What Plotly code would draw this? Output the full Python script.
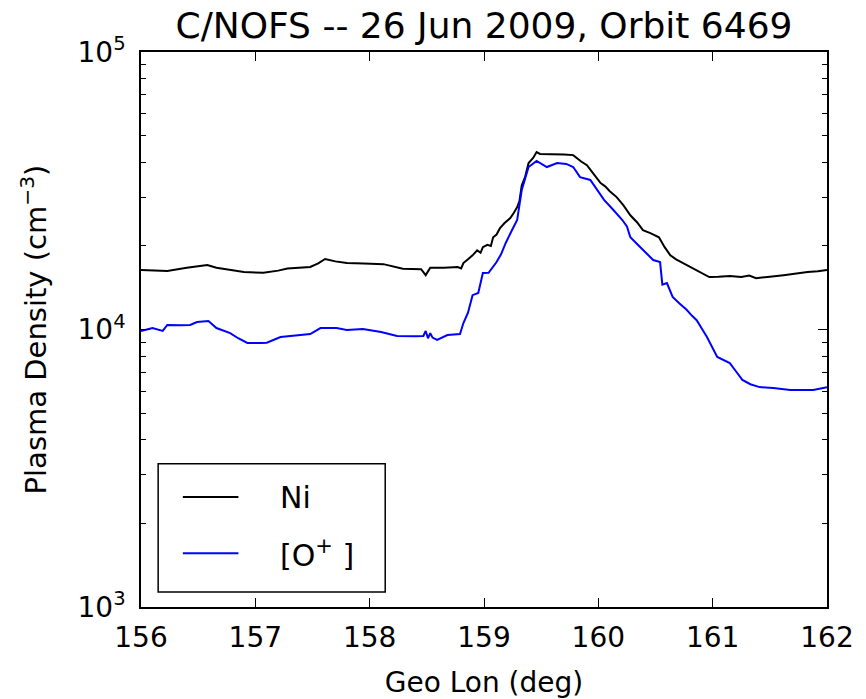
import plotly.graph_objects as go

# Geographic longitude (deg) and densities (cm^-3) along the pass
ni_lon = [156.00, 156.10, 156.23, 156.40, 156.58, 156.66, 156.80, 156.90, 157.07, 157.20,
          157.28, 157.48, 157.55, 157.61, 157.70, 157.80, 157.95, 158.12, 158.29, 158.45,
          158.49, 158.53, 158.65, 158.77, 158.80, 158.82, 158.86, 158.90, 158.94, 158.97,
          158.99, 159.03, 159.06, 159.08, 159.11, 159.14, 159.18, 159.23, 159.26, 159.29,
          159.31, 159.33, 159.36, 159.39, 159.43, 159.46, 159.49, 159.60, 159.70, 159.78,
          159.82, 159.85, 159.90, 159.93, 159.96, 160.02, 160.06, 160.10, 160.16, 160.22,
          160.28, 160.34, 160.39, 160.46, 160.53, 160.58, 160.63, 160.68, 160.74, 160.80,
          160.86, 160.92, 160.97, 161.05, 161.15, 161.25, 161.32, 161.38, 161.45, 161.50,
          161.62, 161.72, 161.83, 161.92, 162.00]
ni_density = [16400, 16300, 16250, 16700, 17080, 16700, 16300, 16100, 16000, 16300,
              16600, 16800, 17300, 17950, 17600, 17350, 17300, 17200, 16550, 16500,
              15700, 16700, 16700, 16800, 16600, 17350, 17900, 18500, 19300, 18900,
              19800, 20200, 20000, 21500, 22000, 23200, 24200, 25200, 26300, 27600,
              29000, 33000, 35500, 39800, 41500, 43600, 42900, 42900, 42700, 42500,
              41200, 40300, 39100, 37500, 36300, 33700, 32800, 31500, 30000, 28000,
              25800, 24300, 22800, 22200, 21500, 19800, 18500, 17900, 17350, 16900,
              16400, 15900, 15450, 15500, 15600, 15450, 15650, 15300, 15450, 15500,
              15700, 15900, 16100, 16200, 16400]

op_lon = [156.00, 156.10, 156.19, 156.23, 156.35, 156.43, 156.49, 156.59, 156.66, 156.78,
          156.85, 156.93, 157.05, 157.10, 157.22, 157.35, 157.48, 157.57, 157.71, 157.80,
          157.94, 158.10, 158.24, 158.40, 158.47, 158.49, 158.51, 158.53, 158.55, 158.59,
          158.68, 158.79, 158.82, 158.86, 158.90, 158.95, 158.99, 159.04, 159.11, 159.15,
          159.19, 159.24, 159.29, 159.33, 159.36, 159.39, 159.46, 159.55, 159.64, 159.72,
          159.78, 159.84, 159.93, 160.00, 160.05, 160.13, 160.21, 160.25, 160.28, 160.33,
          160.37, 160.43, 160.48, 160.54, 160.56, 160.60, 160.65, 160.71, 160.77, 160.82,
          160.86, 160.91, 160.95, 161.04, 161.15, 161.20, 161.26, 161.33, 161.41, 161.53,
          161.68, 161.80, 161.88, 162.00]
op_density = [9880, 10120, 9880, 10380, 10350, 10380, 10640, 10730, 10120, 9710,
              9300, 8940, 8940, 8960, 9400, 9500, 9630, 10120, 10120, 9960,
              10040, 9800, 9480, 9450, 9480, 9880, 9300, 9700, 9350, 9170,
              9550, 9630, 10550, 11500, 13300, 13550, 15980, 16000, 17500, 18700,
              20500, 22600, 24800, 31800, 35000, 38500, 40500, 38500, 39800, 39500,
              38500, 35400, 34600, 31500, 29300, 27000, 24800, 23500, 21500, 20500,
              19700, 18700, 17800, 17500, 14500, 14700, 13100, 12400, 11800, 11200,
              10800, 10000, 9400, 7960, 7570, 7100, 6580, 6350, 6200, 6150,
              6050, 6050, 6050, 6200]

x_ticks = [156, 157, 158, 159, 160, 161, 162]
y_ticks = [1e3, 1e4, 1e5]
y_tick_text = ["10<sup>3</sup>", "10<sup>4</sup>", "10<sup>5</sup>"]

FONT = "DejaVu Sans"

fig = go.Figure()
fig.add_trace(go.Scatter(x=ni_lon, y=ni_density, mode="lines", name="Ni",
                         line=dict(color="black", width=2), showlegend=False))
fig.add_trace(go.Scatter(x=op_lon, y=op_density, mode="lines", name="[O<sup>+</sup>]",
                         line=dict(color="#0000ff", width=2), showlegend=False))

# Boxed legend in the lower-left corner of the axes
fig.add_shape(type="rect", xref="paper", yref="paper", x0=0.025, x1=0.356, y0=0.027, y1=0.258,
              line=dict(color="black", width=1.5), fillcolor="white", layer="above")
for yy, col, txt in [(0.198, "black", "Ni"), (0.097, "#0000ff", "[O<sup>+</sup> ]")]:
    fig.add_shape(type="line", xref="paper", yref="paper", x0=0.061, x1=0.142, y0=yy, y1=yy,
                  line=dict(color=col, width=2), layer="above")
    fig.add_annotation(xref="paper", yref="paper", x=0.199, y=yy, text=txt, showarrow=False,
                       xanchor="left", yanchor="middle",
                       font=dict(family=FONT, size=30, color="black"))

axis_common = dict(showline=True, linecolor="black", linewidth=1.5, mirror="allticks",
                   ticks="inside", tickcolor="black", tickwidth=1.2, showgrid=False,
                   zeroline=False, tickfont=dict(family=FONT, size=28, color="black"))

fig.update_xaxes(range=[156, 162], tickvals=x_ticks, ticklen=9, ticklabelstandoff=5,
                 title=dict(text="Geo Lon (deg)", font=dict(family=FONT, size=28, color="black"),
                            standoff=19),
                 **axis_common)
fig.update_yaxes(type="log", range=[3, 5], tickvals=y_ticks, ticktext=y_tick_text, ticklen=9,
                 ticklabelstandoff=8,
                 minor=dict(ticks="inside", ticklen=5, tickcolor="black", tickwidth=1.2,
                            tickvals=[m * d for d in (1e3, 1e4) for m in range(2, 10)],
                            showgrid=False),
                 title=dict(text="Plasma Density (cm<sup>\u22123</sup>)",
                            font=dict(family=FONT, size=29, color="black"), standoff=22),
                 **axis_common)

fig.update_layout(
    width=866, height=699,
    margin=dict(l=141, r=39, t=52, b=92, autoexpand=False),
    paper_bgcolor="white", plot_bgcolor="white",
    title=dict(text="C/NOFS -- 26 Jun 2009, Orbit 6469", x=0.5, xref="paper",
               xanchor="center", y=0.963, yanchor="middle",
               font=dict(family=FONT, size=36, color="black")),
    font=dict(family=FONT, color="black"),
)

fig.write_html("out.html")
